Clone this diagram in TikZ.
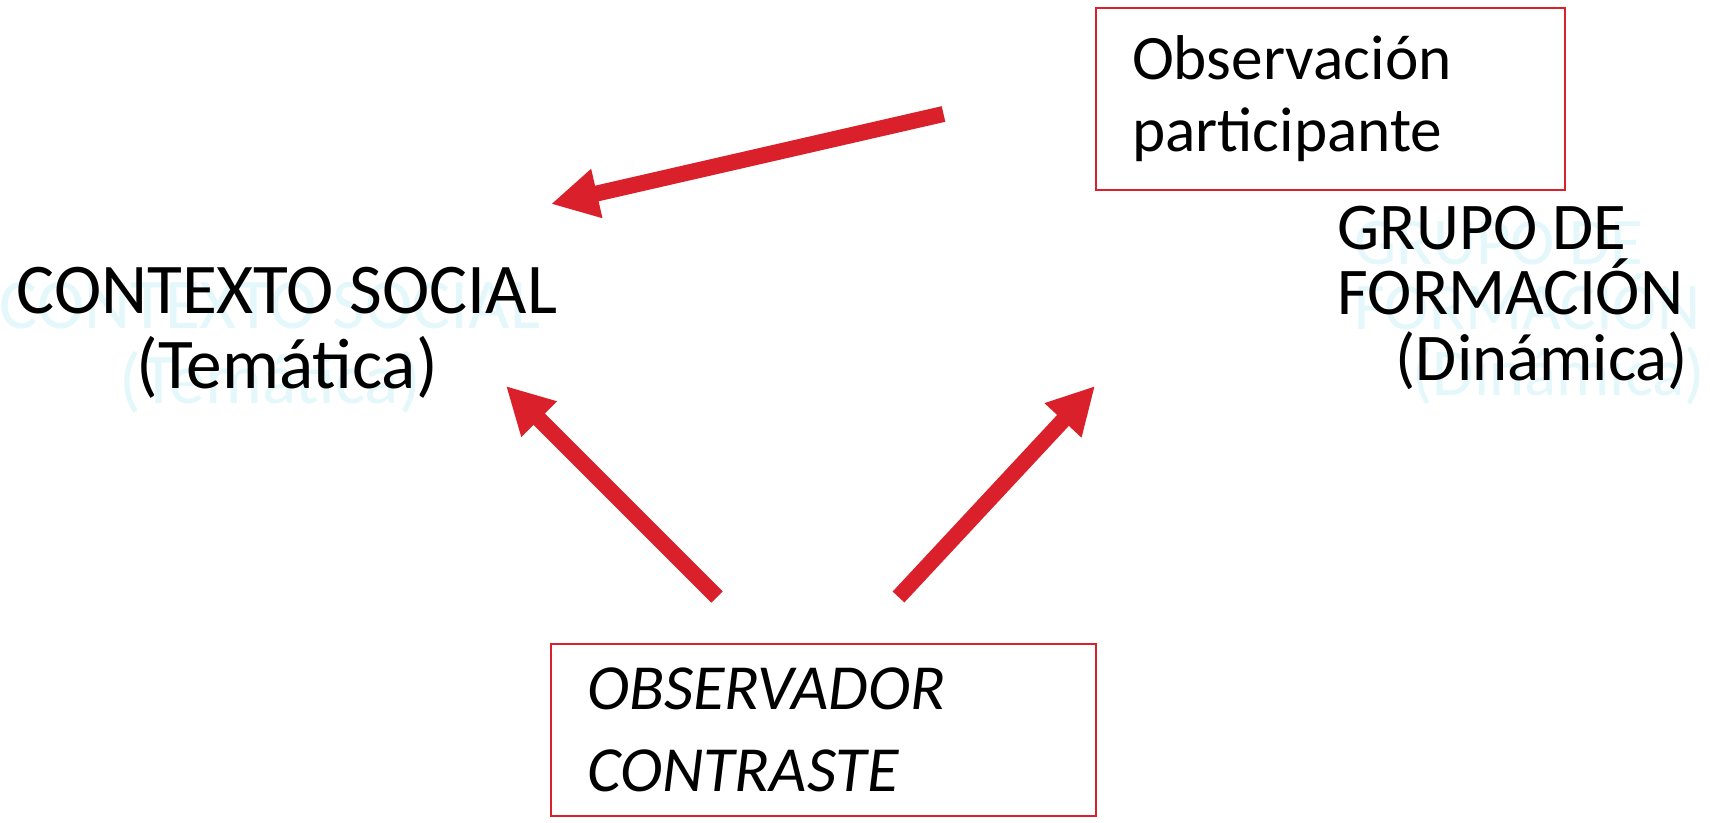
\documentclass[tikz,border=0pt]{standalone}
\usepackage{fontspec}
\setmainfont{Carlito}
\usetikzlibrary{arrows.meta}
\definecolor{arrowred}{RGB}{218,32,42}
\definecolor{shadowcyan}{RGB}{228,247,251}

\begin{document}
\begin{tikzpicture}[
  sidetext/.style={inner sep=0, font=\fontsize{20.3}{21.3}\selectfont},
  grptext/.style={inner sep=0, font=\fontsize{19}{18.5}\selectfont},
  redbox/.style={draw=arrowred, line width=0.6pt, anchor=north west, inner xsep=0.36cm, align=left},
  bigarrow/.style={-{Triangle[length=0.47cm, width=0.47cm]}, line width=0.16cm, arrowred}
]
\useasboundingbox (0,0) rectangle (17.1,8.22);
% Boxes
\node[redbox, minimum width=4.69cm, minimum height=1.82cm, text width=3.97cm, font=\fontsize{18}{20.5}\selectfont] (obs) at (10.95,8.15) {Observación\\participante};
\node[redbox, minimum width=5.45cm, minimum height=1.72cm, text width=4.73cm, font=\itshape\fontsize{18.3}{23.4}\selectfont] (obsv) at (5.50,1.79) {OBSERVADOR\\CONTRASTE};
% Side labels with their shadows
\node[sidetext, text=shadowcyan, align=center, anchor=base] (ctxshadow) at (2.70,4.19) {CONTEXTO SOCIAL\\(Temática)};
\node[sidetext, align=center, anchor=base] (ctx) at (2.87,4.34) {CONTEXTO SOCIAL\\(Temática)};
\node[grptext, text=shadowcyan, align=left, anchor=base west] (grpshadow) at (13.54,4.27) {GRUPO DE\\FORMACIÓN\\\hspace*{0.58cm}(Dinámica)};
\node[grptext, align=left, anchor=base west] (grp) at (13.37,4.42) {GRUPO DE\\FORMACIÓN\\\hspace*{0.58cm}(Dinámica)};
% Arrow ends
\coordinate (obstail) at (9.435,7.08);
\coordinate (ctxtop) at (5.51,6.18);
\coordinate (lefttail) at (7.17,2.25);
\coordinate (ctxbottom) at (5.06,4.36);
\coordinate (righttail) at (8.985,2.25);
\coordinate (grpbottom) at (10.95,4.36);
% Arrows
\draw[bigarrow] (obstail) -- (ctxtop);
\draw[bigarrow] (lefttail) -- (ctxbottom);
\draw[bigarrow] (righttail) -- (grpbottom);
\end{tikzpicture}
\end{document}
